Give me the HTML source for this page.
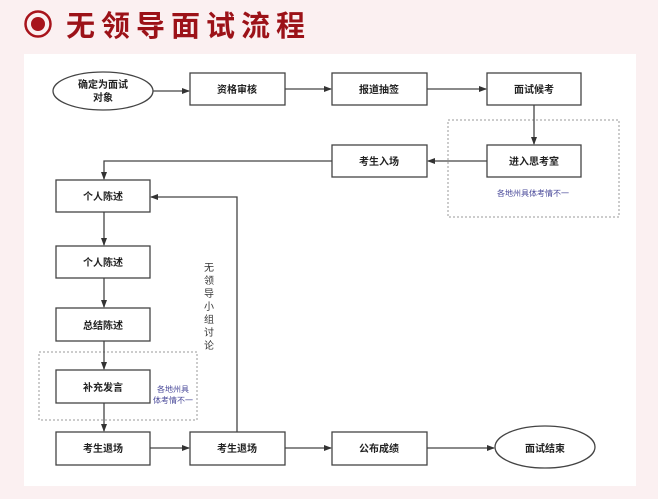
<!DOCTYPE html>
<html><head><meta charset="utf-8"><style>
html,body{margin:0;padding:0;}
body{width:658px;height:499px;background:#fbf0f1;overflow:hidden;font-family:"Liberation Sans","Noto Sans CJK SC",sans-serif;}
</style></head><body>
<svg width="658" height="499" xmlns="http://www.w3.org/2000/svg" style="position:absolute;left:0;top:0">
<defs><marker id="a" markerWidth="8" markerHeight="8" refX="7" refY="4" orient="auto" markerUnits="userSpaceOnUse"><path d="M0,1 L8,4 L0,7 z" fill="#333"/></marker></defs>
<circle cx="38" cy="24" r="12.5" fill="none" stroke="#a8141c" stroke-width="2.5"/>
<circle cx="38" cy="24" r="7" fill="#a8141c"/>
<text x="66" y="36" font-size="29" font-weight="bold" fill="#9c1218" letter-spacing="6" font-family="Noto Sans CJK SC, sans-serif">无领导面试流程</text>
<rect x="24" y="54" width="612" height="432" fill="#fff"/>
<g stroke="#444" stroke-width="1.3" fill="#fff">
<ellipse cx="103" cy="91" rx="50" ry="19"/>
<rect x="190" y="73" width="95" height="32"/>
<rect x="332" y="73" width="95" height="32"/>
<rect x="487" y="73" width="94" height="32"/>
<rect x="487" y="145" width="94" height="32"/>
<rect x="332" y="145" width="95" height="32"/>
<rect x="56" y="180" width="94" height="32"/>
<rect x="56" y="246" width="94" height="32"/>
<rect x="56" y="308" width="94" height="33"/>
<rect x="56" y="370" width="94" height="33"/>
<rect x="56" y="432" width="94" height="33"/>
<rect x="190" y="432" width="95" height="33"/>
<rect x="332" y="432" width="95" height="33"/>
<ellipse cx="545" cy="447" rx="50" ry="21"/>
</g>
<g stroke="#999" stroke-width="1" fill="none" stroke-dasharray="2,2">
<rect x="448" y="120" width="171" height="97"/>
<rect x="39" y="352" width="158" height="68"/>
</g>
<g stroke="#444" stroke-width="1.3" fill="none" marker-end="url(#a)">
<line x1="153" y1="91" x2="189" y2="91"/>
<line x1="285" y1="89" x2="331" y2="89"/>
<line x1="427" y1="89" x2="486" y2="89"/>
<line x1="534" y1="105" x2="534" y2="144"/>
<line x1="487" y1="161" x2="428" y2="161"/>
<polyline points="332,161 104,161 104,179"/>
<line x1="104" y1="212" x2="104" y2="245"/>
<line x1="104" y1="278" x2="104" y2="307"/>
<line x1="104" y1="341" x2="104" y2="369"/>
<line x1="104" y1="403" x2="104" y2="431"/>
<line x1="150" y1="448" x2="189" y2="448"/>
<line x1="285" y1="448" x2="331" y2="448"/>
<line x1="427" y1="448" x2="494" y2="448"/>
<polyline points="237,432 237,197 151,197"/>
</g>
<g font-size="10" font-weight="bold" fill="#222" text-anchor="middle" font-family="Noto Sans CJK SC, sans-serif">
<text x="103" y="88">确定为面试</text><text x="103" y="101">对象</text>
<text x="237" y="93">资格审核</text>
<text x="379" y="93">报道抽签</text>
<text x="534" y="93">面试候考</text>
<text x="534" y="165">进入思考室</text>
<text x="379" y="165">考生入场</text>
<text x="103" y="200">个人陈述</text>
<text x="103" y="266">个人陈述</text>
<text x="103" y="329">总结陈述</text>
<text x="103" y="391">补充发言</text>
<text x="103" y="452">考生退场</text>
<text x="237" y="452">考生退场</text>
<text x="379" y="452">公布成绩</text>
<text x="545" y="452">面试结束</text>
</g>
<g font-size="8" fill="#4a4a9a" text-anchor="middle" font-family="Noto Sans CJK SC, sans-serif">
<text x="533" y="196">各地州具体考情不一</text>
<text x="173" y="392">各地州具</text><text x="173" y="403">体考情不一</text>
</g>
<g font-size="10" fill="#333" text-anchor="middle" font-family="Noto Sans CJK SC, sans-serif">
<text x="209" y="271">无</text><text x="209" y="284">领</text><text x="209" y="297">导</text><text x="209" y="310">小</text><text x="209" y="323">组</text><text x="209" y="336">讨</text><text x="209" y="349">论</text>
</g>
</svg>
</body></html>
